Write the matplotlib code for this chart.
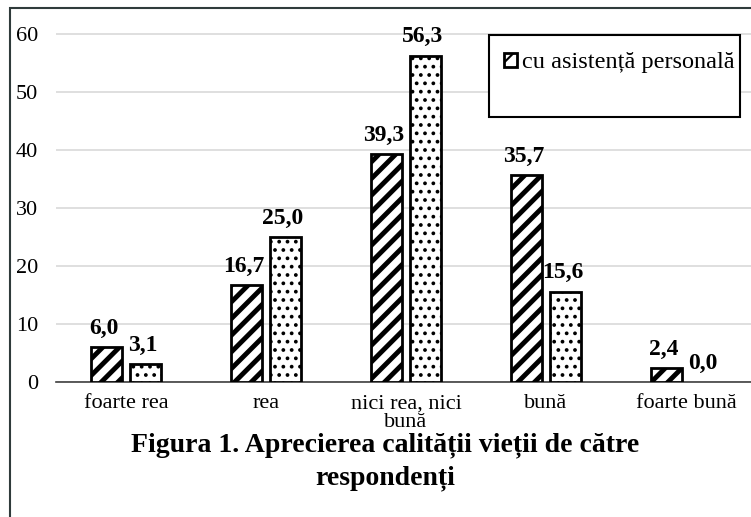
import matplotlib
matplotlib.use("Agg")
import matplotlib.pyplot as plt
from matplotlib.patches import Rectangle
import numpy as np

categories = ["foarte rea", "rea", "nici rea, nici\nbună", "bună", "foarte bună"]
series1_name = "cu asistență personală"
series1 = [6.0, 16.7, 39.3, 35.7, 2.4]
series2 = [3.1, 25.0, 56.3, 15.6, 0.0]
yticks = [0, 10, 20, 30, 40, 50, 60]
title = "Figura 1. Aprecierea calității vieții de către\nrespondenți"

plt.rcParams['font.family'] = ['Liberation Serif', 'DejaVu Serif']
plt.rcParams['hatch.color'] = 'black'

W, H = 751, 517
fig = plt.figure(figsize=(W/100, H/100), dpi=100)

# figure frame
fig.patches.append(Rectangle((10/W, -0.1), 1.2, 1 - 8/H + 0.1, transform=fig.transFigure,
                             fill=False, edgecolor='#2f3b3b', linewidth=1.5))

ax_left, ax_right = 56, 756
ax_bottom, ax_top = 382, 11
ax = fig.add_axes([ax_left/W, 1 - ax_bottom/H, (ax_right-ax_left)/W, (ax_bottom-ax_top)/H])
ax.set_xlim(-0.5, 4.5)
ax.set_ylim(0, 64)

x = np.arange(len(categories))
w = 0.22
off = 0.14

plt.rcParams['hatch.linewidth'] = 3.5
b1 = ax.bar(x - off, series1, w, facecolor='white', edgecolor='black', linewidth=2,
            hatch='//', label=series1_name, zorder=3)
plt.rcParams['hatch.linewidth'] = 1.5
b2 = ax.bar(x + off, series2, w, facecolor='white', edgecolor='black', linewidth=2,
            hatch='..', zorder=3)
if hasattr(b1.patches[0], 'set_hatch_linewidth'):
    for p in b1.patches:
        p.set_hatch_linewidth(3.5)
    for p in b2.patches:
        p.set_hatch_linewidth(1.5)
for p in b2.patches:
    if p.get_height() == 0:
        p.set_visible(False)

for bars, vals in ((b1, series1), (b2, series2)):
    for p, v in zip(bars.patches, vals):
        ax.annotate(f"{v:.1f}".replace('.', ','),
                    (p.get_x() + p.get_width()/2, v),
                    xytext=(-2, 6), textcoords='offset points',
                    ha='center', va='bottom', fontsize=17, fontweight='bold')

ax.set_yticks(yticks)
ax.set_xticks(x)
ax.set_xticklabels(categories, fontsize=16, linespacing=0.95)
ax.tick_params(axis='both', length=0, labelsize=16)
ax.tick_params(axis='x', pad=9)
ax.tick_params(axis='y', pad=13)
ax.grid(axis='y', color='#d9d9d9', linewidth=1.2, zorder=0)
ax.set_axisbelow(True)
for s in ['top', 'right', 'left']:
    ax.spines[s].set_visible(False)
ax.spines['bottom'].set_color('#404040')
ax.spines['bottom'].set_linewidth(1.2)

# legend box
fig.patches.append(Rectangle((489/W, 1 - 117/H), (740-489)/W, (117-35)/H,
                             transform=fig.transFigure, facecolor='white',
                             edgecolor='black', linewidth=1.5, zorder=5))
leg = fig.legend(handles=[b1], labels=[series1_name], loc='center left',
                 bbox_to_anchor=(504/W, 1 - 63/H), frameon=False, fontsize=17.5,
                 handlelength=0.55, handleheight=0.55, handletextpad=0.2, borderpad=0,
                 borderaxespad=0)
leg.set_zorder(6)

fig.text(385/W, 1 - 462/H, title, ha='center', va='center', fontsize=20,
         fontweight='bold', linespacing=1.4)

fig.savefig("out.png", dpi=100)
